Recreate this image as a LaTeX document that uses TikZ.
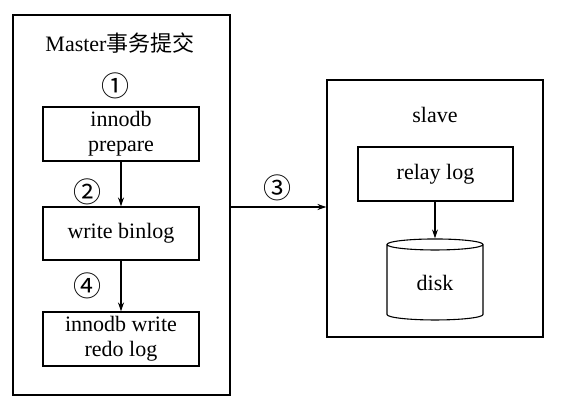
\documentclass[tikz,border=0pt]{standalone}
\usepackage{fontspec}
\setmainfont{Liberation Serif}
\newfontfamily\cjk{Noto Sans CJK SC}
\usetikzlibrary{arrows.meta,positioning,shapes.geometric}

\begin{document}
\begin{tikzpicture} [x=1pt,y=-1pt,line width=1.1pt,font=\fontsize{22}{25}\selectfont,
  box/.style={draw,rectangle,minimum width=156pt,minimum height=54pt,inner sep=0pt,align=center},
  frame/.style={draw,rectangle,inner sep=0pt},
  step label/.style={font=\fontsize{28}{30}\selectfont\cjk}]

  \useasboundingbox (0,0) rectangle (566,409);

  % master side
  \node[frame,minimum width=217pt,minimum height=380pt] (master) at (121.5,205) {};
  \node (mastertitle) at (120,43) {Master{\cjk 事务提交}};
  \node[box] (prepare) at (121,134) {innodb\\prepare};
  \node[box,minimum height=53pt] (binlog) at (121,233.5) {write binlog};
  \node[box] (redo) at (121,339) {innodb write\\redo log};
  \node[step label] (n1) at (115,86) {①};
  \node[step label] (n2) at (88,192) {②};
  \node[step label] (n4) at (88,286) {④};

  % slave side
  \node[frame,minimum width=216pt,minimum height=257pt] (slave) at (435,208.5) {};
  \node (slavetitle) at (435,115) {slave};
  \node[box,minimum width=155pt] (relay) at (435.5,174) {relay log};
  \node[draw,cylinder,shape border rotate=90,aspect=0.3,minimum width=96pt,minimum height=81pt,inner sep=0pt] (disk) at (435,282.5) {disk};
  \node[step label] (n3) at (277,188) {③};

  \path[-{Stealth[length=9pt,width=6pt]}]
    (prepare) edge (binlog)
    (binlog) edge (redo)
    (relay.south -| disk.top) edge (disk.top)
    (master.east |- 0,207) edge (slave.west |- 0,207);

\end{tikzpicture}
\end{document}
